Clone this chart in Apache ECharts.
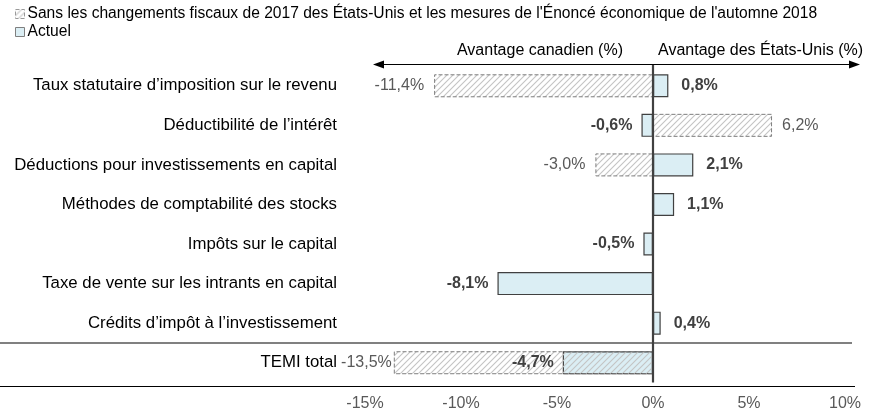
<!DOCTYPE html>
<html><head><meta charset="utf-8">
<script src="https://cdn.jsdelivr.net/npm/echarts@6/dist/echarts.min.js"></script>
<style>html,body{margin:0;padding:0;background:#fff}#c{width:872px;height:418px}</style>
</head><body><div id="c"></div>
<script>
const categories = [
  'Taux statutaire d\u2019imposition sur le revenu',
  'D\u00e9ductibilit\u00e9 de l\u2019int\u00e9r\u00eat',
  'D\u00e9ductions pour investissements en capital',
  'M\u00e9thodes de comptabilit\u00e9 des stocks',
  'Imp\u00f4ts sur le capital',
  'Taxe de vente sur les intrants en capital',
  'Cr\u00e9dits d\u2019imp\u00f4t \u00e0 l\u2019investissement',
  'TEMI total'
];
const sansValues = [-11.4, 6.2, -3.0, null, null, null, null, -13.5];
const actuelValues = [0.8, -0.6, 2.1, 1.1, -0.5, -8.1, 0.4, -4.7];
const seriesNames = [
  'Sans les changements fiscaux de 2017 des \u00c9tats-Unis et les mesures de l\'\u00c9nonc\u00e9 \u00e9conomique de l\'automne 2018',
  'Actuel'
];
const xMin = -15, xMax = 10, xStep = 5;
const headers = ['Avantage canadien (%)', 'Avantage des \u00c9tats-Unis (%)'];

const FONT = '"Liberation Sans", Arial, sans-serif';
function fmt(v){ return v.toFixed(1).replace('.', ',') + '%'; }
function hatch(){
  const c = document.createElement('canvas'); c.width = 6; c.height = 6;
  const g = c.getContext('2d');
  g.strokeStyle = '#c4c4c4'; g.lineWidth = 1.1;
  g.beginPath();
  g.moveTo(0,6); g.lineTo(6,0);
  g.moveTo(-1,1); g.lineTo(1,-1);
  g.moveTo(5,7); g.lineTo(7,5);
  g.stroke();
  return c;
}
const pattern = { image: hatch(), repeat: 'repeat' };

const chart = echarts.init(document.getElementById('c'), null, {renderer:'canvas'});
const option = {
  animation: false,
  textStyle: { fontFamily: FONT },
  legend: {
    data: [
      { name: seriesNames[0], itemStyle: { borderColor: '#9a9a9a', borderType: 'dashed', borderWidth: 1 } },
      { name: seriesNames[1], itemStyle: { borderColor: '#7f7f7f', borderWidth: 1 } }
    ],
    orient: 'vertical', left: 15, top: 5, padding: 0,
    itemWidth: 9, itemHeight: 9, itemGap: 0,
    textStyle: { fontSize: 15.6, lineHeight: 18, color: '#000', fontFamily: FONT, padding: [0,0,0,-2] },
    icon: 'rect'
  },
  grid: { left: 365, right: 27, top: 66, bottom: 35.5, containLabel: false },
  xAxis: {
    type: 'value', min: xMin, max: xMax, interval: xStep,
    axisLine: { show: false }, axisTick: { show: false }, splitLine: { show: false },
    axisLabel: { formatter: v => v + '%', color: '#595959', fontSize: 16, margin: 13, fontFamily: FONT }
  },
  yAxis: {
    type: 'category', data: categories, inverse: true,
    axisLine: { show: false, onZero: false }, axisTick: { show: false },
    axisLabel: { color: '#000', fontSize: 16.8, margin: 28, fontFamily: FONT }
  },
  series: [
    {
      name: seriesNames[1], type: 'bar', barWidth: 23, barGap: '-100%', z: 2,
      itemStyle: { color: '#dbeef4', borderColor: '#404040', borderWidth: 1.2 },
      label: { show: true, formatter: p => fmt(p.value), fontWeight: 'bold', color: '#404040', fontSize: 16, fontFamily: FONT },
      data: actuelValues.map(v => ({ value: v, label: { position: v < 0 ? 'left' : 'right', distance: v < 0 ? 9 : 13 } }))
    },
    {
      name: seriesNames[0], type: 'bar', barWidth: 23, barGap: '-100%', z: 2,
      itemStyle: { color: pattern, borderColor: '#7f7f7f', borderType: 'dashed', borderWidth: 1 },
      label: { show: true, formatter: p => fmt(p.value), color: '#595959', fontSize: 16, distance: 10, fontFamily: FONT },
      data: sansValues.map(v => v === null ? '-' : ({ value: v, label: { position: v < 0 ? 'left' : 'right', distance: v < xMin + 2 ? 2 : 10 } }))
    }
  ]
};
chart.setOption(option);

const x0 = chart.convertToPixel({xAxisIndex:0}, 0);
const xL = chart.convertToPixel({xAxisIndex:0}, xMin);
const xR = chart.convertToPixel({xAxisIndex:0}, xMax);
const yA = chart.convertToPixel({yAxisIndex:0}, categories[6]);
const yB = chart.convertToPixel({yAxisIndex:0}, categories[7]);
const yFirst = chart.convertToPixel({yAxisIndex:0}, categories[0]);
const band = yB - yA;
const sepY = (yA + yB) / 2;
const gridBottom = yB + band / 2;
const arrowY = yFirst - band / 2 - 1.5;

chart.setOption({
  graphic: [
    { type: 'line', silent: true, z: 1, shape: { x1: 0, y1: sepY, x2: xR + 7, y2: sepY }, style: { stroke: '#808080', lineWidth: 2 } },
    { type: 'line', silent: true, z: 1, shape: { x1: 0, y1: gridBottom + 4, x2: xR + 10, y2: gridBottom + 4 }, style: { stroke: '#000', lineWidth: 1.2 } },
    { type: 'line', silent: true, z: 10, shape: { x1: x0, y1: arrowY, x2: x0, y2: gridBottom }, style: { stroke: '#404040', lineWidth: 2.2 } },
    { type: 'line', silent: true, z: 10, shape: { x1: xL + 14, y1: arrowY, x2: xR + 6, y2: arrowY }, style: { stroke: '#000', lineWidth: 1.2 } },
    { type: 'polygon', silent: true, z: 10, shape: { points: [[xL + 8, arrowY], [xL + 19, arrowY - 4], [xL + 19, arrowY + 4]] }, style: { fill: '#000' } },
    { type: 'polygon', silent: true, z: 10, shape: { points: [[xR + 15, arrowY], [xR + 4, arrowY - 4], [xR + 4, arrowY + 4]] }, style: { fill: '#000' } },
    { type: 'text', silent: true, z: 10, style: { text: headers[0], x: x0 - 30, y: arrowY - 14, align: 'right', verticalAlign: 'middle', fontSize: 16, fill: '#000', fontFamily: FONT } },
    { type: 'text', silent: true, z: 10, style: { text: headers[1], x: x0 + 5, y: arrowY - 14, align: 'left', verticalAlign: 'middle', fontSize: 16, fill: '#000', fontFamily: FONT } }
  ]
});
</script>
</body></html>
